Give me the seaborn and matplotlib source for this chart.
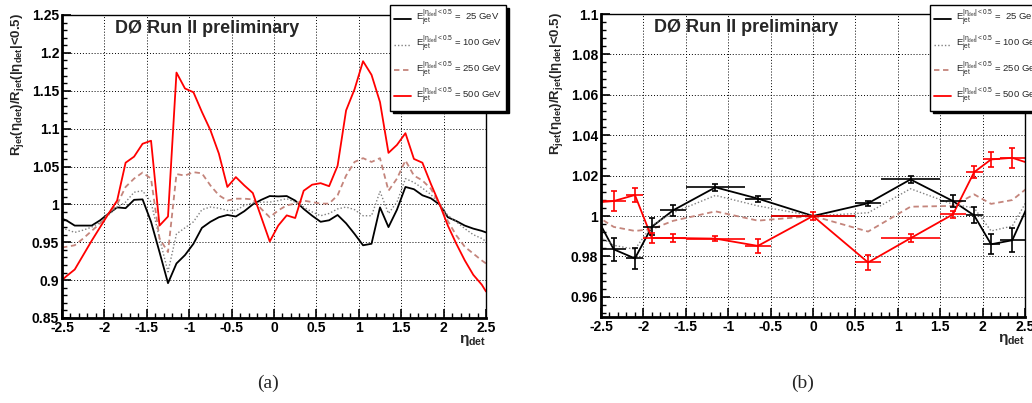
import numpy as np
import pandas as pd
import seaborn as sns
import matplotlib
matplotlib.use("Agg")
import matplotlib.pyplot as plt
from matplotlib.lines import Line2D
from matplotlib.ticker import MultipleLocator, FuncFormatter

# panel (a): relative response in 0.1 wide eta_det bins (plus the two edges)
eta_a = [-2.5, -2.45, -2.35, -2.25, -2.15, -2.05, -1.95, -1.85, -1.75, -1.65,
         -1.55, -1.45, -1.35, -1.25, -1.15, -1.05, -0.95, -0.85, -0.75, -0.65,
         -0.55, -0.45, -0.35, -0.25, -0.15, -0.05, 0.05, 0.15, 0.25, 0.35,
         0.45, 0.55, 0.65, 0.75, 0.85, 0.95, 1.05, 1.15, 1.25, 1.35,
         1.45, 1.55, 1.65, 1.75, 1.85, 1.95, 2.05, 2.15, 2.25, 2.35,
         2.45, 2.5]
r25_a = [0.981, 0.979, 0.972, 0.972, 0.972, 0.979, 0.988, 0.996, 0.995, 1.006,
         1.0066, 0.977, 0.937, 0.896, 0.922, 0.933, 0.948, 0.969, 0.977, 0.983,
         0.986, 0.984, 0.991, 1.000, 1.006, 1.011, 1.0105, 1.011, 1.005, 0.994,
         0.985, 0.977, 0.979, 0.986, 0.975, 0.961, 0.946, 0.948, 0.996, 0.970,
         0.993, 1.023, 1.020, 1.012, 1.008, 1.000, 0.983, 0.978, 0.972, 0.968,
         0.965, 0.963]
r100_a = [0.969, 0.967, 0.963, 0.966, 0.970, 0.976, 0.986, 0.996, 1.003, 1.016,
          1.018, 1.003, 0.955, 0.911, 0.961, 0.969, 0.977, 0.993, 0.9965, 0.995,
          0.992, 0.992, 0.9987, 1.002, 1.003, 1.003, 1.005, 1.0075, 1.003, 0.9965,
          0.990, 0.985, 0.988, 0.994, 0.9965, 0.993, 0.985, 0.985, 1.017, 0.988,
          1.003, 1.034, 1.029, 1.0215, 1.013, 1.001, 0.9855, 0.977, 0.968, 0.960,
          0.955, 0.951]
r250_a = [0.943, 0.944, 0.946, 0.955, 0.965, 0.975, 0.988, 1.000, 1.023, 1.034,
          1.042, 1.034, 0.955, 0.937, 1.040, 1.038, 1.0425, 1.041, 1.025, 1.012,
          1.005, 1.0075, 1.0075, 1.0066, 0.994, 0.983, 0.992, 0.9987, 1.001, 1.005,
          1.003, 1.001, 1.001, 1.012, 1.038, 1.056, 1.061, 1.056, 1.061, 1.018,
          1.034, 1.058, 1.038, 1.0316, 1.0206, 1.001, 0.978, 0.959, 0.944, 0.935,
          0.926, 0.922]
r500_a = [0.900, 0.905, 0.914, 0.933, 0.952, 0.970, 0.988, 1.005, 1.055, 1.063,
          1.080, 1.084, 0.972, 0.984, 1.174, 1.153, 1.148, 1.122, 1.098, 1.067,
          1.023, 1.036, 1.025, 1.015, 0.983, 0.951, 0.972, 0.9855, 0.982, 1.018,
          1.026, 1.028, 1.024, 1.051, 1.124, 1.152, 1.189, 1.171, 1.135, 1.068,
          1.0785, 1.094, 1.060, 1.055, 1.027, 1.001, 0.972, 0.948, 0.926, 0.907,
          0.894, 0.885]

# panel (b): wide bins, first and last point lie just outside the frame
eta_b = [-2.65, -2.35, -2.1, -1.9, -1.65, -1.15, -0.65, 0.0,
         0.65, 1.15, 1.65, 1.9, 2.1, 2.35, 2.65]
eta_b_half = [0.15, 0.15, 0.1, 0.1, 0.15, 0.35, 0.15, 0.5,
              0.15, 0.35, 0.15, 0.1, 0.1, 0.15, 0.15]
r25_b = [1.007, 0.9835, 0.979, 0.9947, 1.0028, 1.0142, 1.0086, 1.0,
         1.0063, 1.0181, 1.0074, 1.0003, 0.986, 0.988, 1.016]
r25_b_err = [0.006, 0.0058, 0.0052, 0.0043, 0.0026, 0.0017, 0.0015, 0.0,
             0.0013, 0.0016, 0.0028, 0.004, 0.005, 0.006, 0.006]
r100_b = [0.993, 0.9855, 0.9835, 0.9954, 1.0016, 1.0102, 1.005, 1.0,
          1.0016, 1.0135, 1.0058, 1.004, 0.9926, 0.995, 1.017]
r250_b = [1.0026, 0.9946, 0.9926, 0.9935, 0.9976, 1.0023, 0.9977, 1.0,
          0.9923, 1.0046, 1.005, 1.0107, 1.006, 1.0079, 1.018]
r500_b = [1.0064, 1.0074, 1.0104, 0.9891, 0.9891, 0.9888, 0.9852, 1.0,
          0.977, 0.989, 1.0008, 1.0217, 1.028, 1.0288, 1.0247]
r500_b_err = [0.005, 0.005, 0.0037, 0.0027, 0.002, 0.0013, 0.0035, 0.0021,
              0.0035, 0.002, 0.0019, 0.003, 0.0039, 0.0049, 0.005]

energies = ["25", "100", "250", "500"]
labels = [r"$E_{jet}^{|\eta_{det}|{<}0.5}$ =  25 GeV",
          r"$E_{jet}^{|\eta_{det}|{<}0.5}$ = 100 GeV",
          r"$E_{jet}^{|\eta_{det}|{<}0.5}$ = 250 GeV",
          r"$E_{jet}^{|\eta_{det}|{<}0.5}$ = 500 GeV"]

colors = {"25": "black", "100": "#808080", "250": "#c4857c", "500": "#ff0000"}
styles = {"25": "-", "100": (0, (1, 1.5)), "250": (0, (3, 2)), "500": "-"}
widths = {"25": 1.3, "100": 1.0, "250": 1.3, "500": 1.3}

sns.set_theme(style="white")
plt.rcParams["font.family"] = ["Liberation Sans", "DejaVu Sans"]
plt.rcParams["mathtext.fontset"] = "custom"
plt.rcParams["mathtext.rm"] = "Liberation Sans"
plt.rcParams["mathtext.it"] = "Liberation Sans:italic"
plt.rcParams["mathtext.bf"] = "Liberation Sans:bold"
plt.rcParams["mathtext.default"] = "regular"

df_a = pd.DataFrame({"eta": eta_a, "25": r25_a, "100": r100_a,
                     "250": r250_a, "500": r500_a})
df_a = df_a.melt(id_vars="eta", var_name="energy", value_name="ratio")
df_b = pd.DataFrame({"eta": eta_b, "25": r25_b, "100": r100_b,
                     "250": r250_b, "500": r500_b})
df_b = df_b.melt(id_vars="eta", var_name="energy", value_name="ratio")

fig = plt.figure(figsize=(10.32, 4.03), dpi=100)
W, H = 1032, 403
ax_a = fig.add_axes([62 / W, 1 - 318 / H, 424 / W, 303 / H])
ax_b = fig.add_axes([601 / W, 1 - 317 / H, 424 / W, 303 / H])

fmt = FuncFormatter(lambda v, pos: f"{round(v, 4):g}")
ylabel = r"R$_{jet}$($\eta_{det}$)/R$_{jet}$(|$\eta_{det}$|<0.5)"

def style_axes(ax, ylim, ymaj, ymin):
    ax.set_xlim(-2.5, 2.5)
    ax.set_ylim(*ylim)
    ax.xaxis.set_major_locator(MultipleLocator(0.5))
    ax.xaxis.set_minor_locator(MultipleLocator(0.1))
    ax.yaxis.set_major_locator(MultipleLocator(ymaj))
    ax.yaxis.set_minor_locator(MultipleLocator(ymin))
    ax.xaxis.set_major_formatter(fmt)
    ax.yaxis.set_major_formatter(fmt)
    ax.tick_params(which="both", direction="in", bottom=True, left=True,
                   top=False, right=False, colors="black")
    ax.tick_params(which="major", length=6.5, width=1.2, labelsize=10, pad=2)
    ax.tick_params(which="minor", length=3.5, width=1.0)
    for lab in ax.get_xticklabels() + ax.get_yticklabels():
        lab.set_fontweight("bold")
    ax.grid(True, which="major", color="black", linestyle=(0, (1, 2)), linewidth=0.7)
    ax.set_axisbelow(True)
    for s in ["left", "bottom"]:
        ax.spines[s].set_linewidth(2.0)
    for s in ["top", "right"]:
        ax.spines[s].set_linewidth(1.0)
    for s in ax.spines.values():
        s.set_color("black")
    ax.set_xlabel(r"$\eta_{det}$", fontsize=11, fontweight="bold", loc="right")
    ax.xaxis.set_label_coords(1.0, -0.05)
    ax.set_ylabel(ylabel, fontsize=9.5, fontweight="bold", loc="top")
    ax.yaxis.set_label_coords(-0.085, 1.005)
    ax.text(0.125, 0.9406, "DØ Run II preliminary", transform=ax.transAxes,
            fontsize=13, fontweight="bold", va="baseline")

for e in energies:
    sns.lineplot(data=df_a[df_a["energy"] == e], x="eta", y="ratio",
                 color=colors[e], linestyle=styles[e], linewidth=widths[e],
                 sort=False, estimator=None, ax=ax_a)
    sns.lineplot(data=df_b[df_b["energy"] == e], x="eta", y="ratio",
                 color=colors[e], linestyle=styles[e], linewidth=widths[e],
                 sort=False, estimator=None, ax=ax_b)

# error bars on the 25 and 500 GeV points
for vals, errs, c in [(r25_b, r25_b_err, "black"), (r500_b, r500_b_err, "#ff0000")]:
    ax_b.errorbar(eta_b[1:-1], vals[1:-1], yerr=errs[1:-1], fmt="none",
                  ecolor=c, elinewidth=1.2, capsize=2, capthick=1.2)
    ax_b.errorbar(eta_b[1:-1], vals[1:-1], xerr=eta_b_half[1:-1], fmt="none",
                  ecolor=c, elinewidth=1.2, capsize=0)

style_axes(ax_a, (0.85, 1.25), 0.05, 0.01)
style_axes(ax_b, (0.95, 1.1), 0.02, 0.004)

handles = [Line2D([], [], color=colors[e], linestyle=styles[e], linewidth=widths[e])
           for e in energies]
for ax, x0 in [(ax_a, 390), (ax_b, 930)]:
    leg = ax.legend(handles, labels, loc="upper left",
                    bbox_to_anchor=(x0 / W, 1 - 5 / H), bbox_transform=fig.transFigure,
                    borderaxespad=0, fontsize=6.8, frameon=True, fancybox=False,
                    shadow={"ox": 2, "oy": -2, "color": "black", "alpha": 1},
                    handlelength=1.8, handletextpad=0.45, borderpad=0.45,
                    labelspacing=0.72)
    leg.get_frame().set_edgecolor("black")
    leg.get_frame().set_linewidth(1.0)
    leg.get_frame().set_facecolor("white")

fig.text(268 / W, 1 - 383 / H, "(a)", ha="center", va="center",
         fontsize=14, family="Liberation Serif")
fig.text(803 / W, 1 - 383 / H, "(b)", ha="center", va="center",
         fontsize=14, family="Liberation Serif")

fig.savefig("out.png", dpi=100)
